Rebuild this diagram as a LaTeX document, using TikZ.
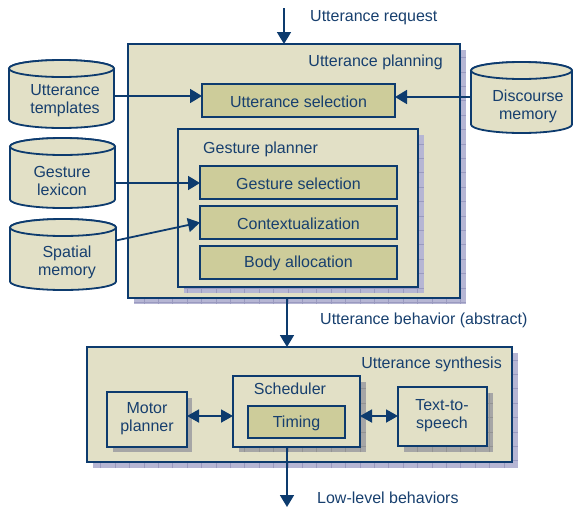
\documentclass[tikz,border=0pt]{standalone}
\usepackage{fontspec}
\setmainfont{Liberation Sans}
\usetikzlibrary{arrows.meta,fit}
\definecolor{beige}{HTML}{E2E0C6}
\definecolor{olive}{HTML}{CDCC9A}
\definecolor{navy}{HTML}{0D3B6E}
\definecolor{txt}{HTML}{173F6E}
\definecolor{lav}{HTML}{B6B6D4}
\definecolor{lavgrid}{HTML}{9A9AC0}
\definecolor{gshad}{HTML}{A6A6A6}
\definecolor{ggrid}{HTML}{939393}
\newcommand\shgrid[6]{%
  \fill[#5] (#1,#2) rectangle (#3,#4);
  \begin{scope}
    \clip (#1,#2) rectangle (#3,#4);
    \draw[#6, line width=0.8pt, step=14.4pt] (#1,#2) grid (#3,#4);
  \end{scope}}
\newcommand\dbcyl[5]{%
  \node[fit={(#2,#3) (#4,#5)}, inner sep=0pt, outer sep=0pt] (#1) {};
  \path[cylstyle] (#2,#3+8.5) -- (#2,#5-8.5)
     arc[start angle=180, end angle=0, x radius={(#4-#2)/2}, y radius=8.5]
     -- (#4,#3+8.5)
     arc[start angle=0, end angle=-180, x radius={(#4-#2)/2}, y radius=8.5] -- cycle;
  \path[cylstyle] ({(#2+#4)/2},#3+8.5) ellipse [x radius={(#4-#2)/2}, y radius=8.5];}
\begin{document}
\begin{tikzpicture}[x=1pt,y=-1pt,
  font=\fontsize{16}{18}\selectfont, text=txt,
  cylstyle/.style={fill=beige, draw=navy, line width=1.8pt},
  boxlight/.style={fill=beige, draw=navy, line width=1.8pt, inner sep=0pt, outer sep=0pt},
  boxolive/.style={fill=olive, draw=navy, line width=1.8pt, inner sep=0pt, outer sep=0pt, align=center},
  lbl/.style={inner sep=0pt, align=center},
  conn/.style={draw=navy, line width=1.8pt, -{Triangle[length=12pt,width=14pt]}},
  dconn/.style={draw=navy, line width=1.8pt, {Triangle[length=12pt,width=13pt]}-{Triangle[length=12pt,width=13pt]}}]
\useasboundingbox (0,0) rectangle (573,507);

% Utterance planning
\shgrid{134}{50}{466}{304}{lav}{lavgrid}
\node[boxlight, fit={(128,44) (460,298)}] (UP) {};
\node[lbl, anchor=east] (UPl) at (443,62) {Utterance planning};
\node[boxolive, fit={(202,84) (395,117)}] (US) {};
\node[lbl] at ([yshift=-1pt]US.center) {Utterance selection};

% Gesture planner
\shgrid{184}{135}{424}{293}{lav}{lavgrid}
\node[boxlight, fit={(178,129) (418,287)}] (GP) {};
\node[lbl, anchor=west] (GPl) at (203,149) {Gesture planner};
\node[boxolive, fit={(200,166) (397,199)}] (GS) {};
\node[lbl] at ([yshift=-1pt]GS.center) {Gesture selection};
\node[boxolive, fit={(200,206) (397,239)}] (CX) {};
\node[lbl] at ([yshift=-1pt]CX.center) {Contextualization};
\node[boxolive, fit={(200,246) (397,279)}] (BA) {};
\node[lbl] at ([yshift=-1pt]BA.center) {Body allocation};

% Cylinders
\dbcyl{UT}{9}{60}{114}{128}
\node[lbl] (UTt) at (65,101) {Utterance\\templates};
\dbcyl{GL}{10}{138}{115}{208}
\node[lbl] (GLt) at (62,181) {Gesture\\lexicon};
\dbcyl{SM}{10}{219}{116}{290}
\node[lbl] (SMt) at (67,262) {Spatial\\memory};
\dbcyl{DM}{471}{62}{572}{133}
\node[lbl] (DMt) at (528,106) {Discourse\\memory};

% Utterance synthesis
\shgrid{93}{353}{518}{468}{lav}{lavgrid}
\node[boxlight, fit={(87,347) (512,462)}] (SY) {};
\node[lbl, anchor=east] (SYl) at (502,364) {Utterance synthesis};

\shgrid{113}{398}{192}{452}{gshad}{gshad}
\node[boxlight, fit={(107,392) (187,447)}] (MP) {};
\node[lbl] at (147,419) {Motor\\planner};

\shgrid{239}{382}{366}{452}{gshad}{ggrid}
\node[boxlight, fit={(233,376) (360,447)}] (SC) {};
\node[lbl] (SCl) at (290,389) {Scheduler};
\node[boxolive, fit={(248,406) (345,438)}] (TI) {};
\node[lbl] at ([yshift=-1pt]TI.center) {Timing};

\shgrid{404}{393}{493}{452}{gshad}{ggrid}
\node[boxlight, fit={(398,387) (487,446)}] (TS) {};
\node[lbl] at (442,416) {Text-to-\\speech};

% Connectors
\coordinate (req) at (284,8);
\draw[conn] (req) -- (req |- UP.north);
\node[lbl, anchor=west] (reql) at (310,18) {Utterance request};

\draw[conn] (UT.east |- 0,96) -- (US.west |- 0,96);
\draw[conn] (DM.west |- 0,97) -- (US.east |- 0,97);
\draw[conn] (GL.east |- 0,183) -- (GS.west |- 0,183);
\draw[conn] ([yshift=14pt]SM.east) -- (CX.west);

\coordinate (ax) at (287,0);
\draw[conn] (UP.south -| ax) -- (SY.north -| ax);
\node[lbl, anchor=west] (behl) at (320,320) {Utterance behavior (abstract)};

\draw[dconn] (MP.east |- 0,416) -- (SC.west |- 0,416);
\draw[dconn] (SC.east |- 0,416) -- (TS.west |- 0,416);

\coordinate (low) at (287,507);
\draw[conn] (SC.south -| ax) -- (low);
\node[lbl, anchor=west] (lowl) at (317,498) {Low-level behaviors};
\end{tikzpicture}
\end{document}
